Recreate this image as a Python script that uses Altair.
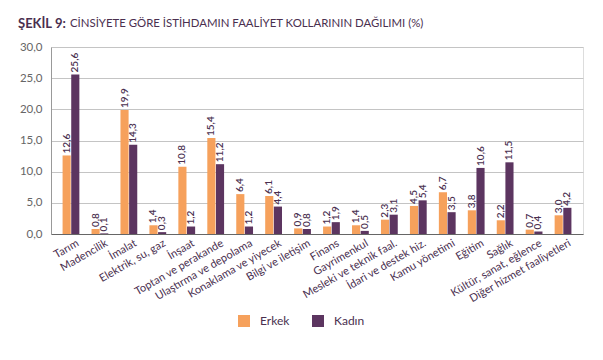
import altair as alt
import pandas as pd

categories = ["Tarım", "Madencilik", "İmalat", "Elektrik, su, gaz", "İnşaat",
              "Toptan ve perakande", "Ulaştırma ve depolama", "Konaklama ve yiyecek",
              "Bilgi ve iletişim", "Finans", "Gayrimenkul", "Mesleki ve teknik faal.",
              "İdari ve destek hiz.", "Kamu yönetimi", "Eğitim", "Sağlık",
              "Kültür, sanat, eğlence", "Diğer hizmet faaliyetleri"]
erkek = [12.6, 0.8, 19.9, 1.4, 10.8, 15.4, 6.4, 6.1, 0.9, 1.2, 1.4, 2.3, 4.5, 6.7, 3.8, 2.2, 0.7, 3.0]
kadin = [25.6, 0.1, 14.3, 0.3, 1.2, 11.2, 1.2, 4.4, 0.8, 1.9, 0.5, 3.1, 5.4, 3.5, 10.6, 11.5, 0.4, 4.2]
series = ["Erkek", "Kadın"]
colors = ["#F6A15C", "#5C3560"]

rows = []
for c, e, k in zip(categories, erkek, kadin):
    rows.append({"cat": c, "series": "Erkek", "value": e})
    rows.append({"cat": c, "series": "Kadın", "value": k})
df = pd.DataFrame(rows)

FONT = "Lato"
TXT = "#4a2f4f"

x_enc = alt.X("cat:N", sort=categories,
              scale=alt.Scale(paddingInner=0.42, paddingOuter=0.4),
              axis=alt.Axis(title=None, labelAngle=330, labelAlign="right", labelBaseline="top",
                            labelFontSize=11, labelColor=TXT, labelFont=FONT, ticks=False,
                            domainColor="#666666", labelPadding=3, labelOffset=4))
xo_enc = alt.XOffset("series:N", sort=series, scale=alt.Scale(paddingInner=0.06))
y_enc = alt.Y("value:Q", scale=alt.Scale(domain=[0, 30]),
              axis=alt.Axis(title=None, values=[0, 5, 10, 15, 20, 25, 30],
                            labelExpr="replace(format(datum.value, '.1f'), '.', ',')",
                            labelFontSize=11.5, labelColor="#666666", labelFont=FONT,
                            ticks=False, domain=True, domainColor="#999999",
                            gridColor="#c4c4c4", labelPadding=9))

base = alt.Chart(df)

bars = base.mark_bar().encode(
    x=x_enc, xOffset=xo_enc, y=y_enc,
    color=alt.Color("series:N", sort=series,
                    scale=alt.Scale(domain=series, range=colors),
                    legend=alt.Legend(title=None, orient="none", legendX=187, legendY=268,
                                      direction="horizontal", symbolType="square",
                                      symbolSize=144, symbolStrokeWidth=0,
                                      labelFontSize=12, labelColor=TXT, labelFont=FONT,
                                      labelOffset=10, columnPadding=22)),
)

labels = base.mark_text(angle=270, align="left", baseline="middle", dx=2,
                        fontSize=10, fontWeight=600, font=FONT, color=TXT).encode(
    x=x_enc, xOffset=xo_enc, y=y_enc,
    text=alt.Text("lbl:N"),
).transform_calculate(lbl="replace(format(datum.value, '.1f'), '.', ',')")

t1 = alt.Chart(pd.DataFrame({"t": ["ŞEKİL 9:"]})).mark_text(
    align="left", baseline="middle", fontSize=13, fontWeight="bold", font=FONT, color=TXT
).encode(text="t:N", x=alt.value(-33), y=alt.value(-23))
t2 = alt.Chart(pd.DataFrame({"t": ["CİNSİYETE GÖRE İSTİHDAMIN FAALİYET KOLLARININ DAĞILIMI (%)"]})).mark_text(
    align="left", baseline="middle", fontSize=11.4, font=FONT, color=TXT
).encode(text="t:N", x=alt.value(19), y=alt.value(-23))

chart = alt.layer(bars, labels, t1, t2).properties(
    width=532, height=187,
    autosize=alt.AutoSizeParams(type="none"),
    padding={"left": 43, "top": 39, "right": 12, "bottom": 110},
).configure_view(stroke=None).configure(background="white")

chart.save("out.html", embed_options={"renderer": "svg", "actions": False})
